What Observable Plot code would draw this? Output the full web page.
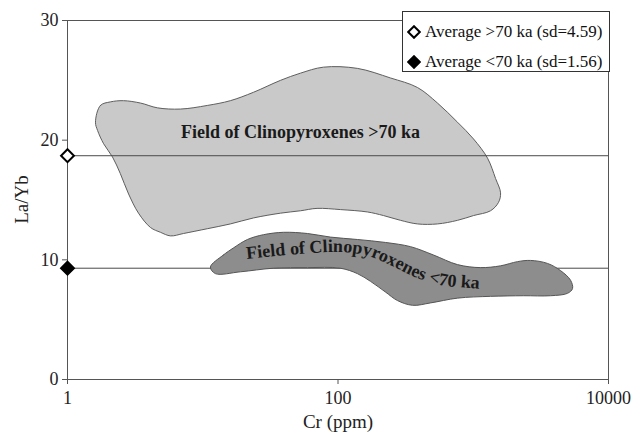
<!DOCTYPE html>
<html>
<head>
<meta charset="utf-8">
<script src="https://cdn.jsdelivr.net/npm/d3@7"></script>
<script src="https://cdn.jsdelivr.net/npm/@observablehq/plot@0.6"></script>
<style>
  body { margin: 0; background: #fff; }
  #chart { position: relative; width: 641px; height: 439px; font-family: "Liberation Serif", "Times New Roman", serif; }
  .legend { position: absolute; left: 402px; top: 11px; width: 206px; height: 59px; border: 1px solid #333; background: #fff; color: #111; font-size: 17px; }
  .legend .item { position: absolute; left: 4px; height: 24px; display: flex; align-items: center; white-space: nowrap; }
  .legend svg { margin-right: 4px; }
</style>
</head>
<body>
<div id="chart"></div>
<script>
// Axis ticks
const xTicks = [1, 100, 10000];
const yTicks = [0, 10, 20, 30];

// Outline of the clinopyroxene field older than 70 ka (Cr ppm, La/Yb)
const olderFieldCr   = [1.61, 1.75, 2.08, 2.59, 3.47, 4.63, 6.85, 10.8, 16.0, 23.7, 37.6, 52.8, 78, 139, 244, 387, 544, 765, 1005, 1275, 1462, 1592, 1537, 1342, 1005, 765, 544, 387, 290, 217, 165, 104, 70, 52.8, 37.6, 23.7, 16.0, 10.8, 7.2, 5.78, 4.87, 4.11, 3.35, 2.83, 2.46, 2.15, 1.85, 1.67];
const olderFieldLaYb = [21.5, 22.9, 23.2, 23.3, 23.1, 22.7, 22.6, 22.9, 23.3, 24.0, 25.0, 25.6, 26.1, 26.0, 25.2, 24.4, 23.1, 21.5, 20.1, 18.5, 16.8, 15.6, 14.8, 14.1, 13.7, 13.3, 13.0, 13.0, 13.3, 13.7, 14.0, 14.2, 14.3, 14.1, 13.9, 13.5, 13.0, 12.6, 12.2, 12.0, 12.3, 12.7, 13.9, 15.5, 17.2, 18.6, 19.7, 20.8];

// Outline of the clinopyroxene field younger than 70 ka
const youngerFieldCr   = [11.4, 14.2, 16.9, 21.4, 28.1, 39.5, 59.5, 88, 139, 225, 344, 509, 765, 1132, 1592, 2125, 2651, 3540, 4418, 5238, 5421, 4975, 3725, 2353, 1342, 765, 483, 356, 275, 225, 174, 139, 104, 59.5, 33.3, 19.0, 12.4];
const youngerFieldLaYb = [9.4, 10.4, 11.0, 11.7, 12.1, 12.3, 12.2, 11.9, 11.7, 11.45, 11.1, 10.4, 9.6, 9.35, 9.5, 9.85, 9.95, 9.7, 9.1, 8.3, 7.6, 7.2, 7.0, 7.0, 6.95, 6.8, 6.4, 6.2, 6.6, 7.3, 8.2, 8.85, 9.3, 9.35, 9.3, 9.0, 8.85];

// Average La/Yb of each age group, plotted at Cr = 1
const averageLabels = ["Average >70 ka (sd=4.59)", "Average <70 ka (sd=1.56)"];
const averageCr = [1, 1];
const averageLaYb = [18.7, 9.3];
const averageFill = ["white", "black"];

// Field names
const olderFieldName = "Field of Clinopyroxenes >70 ka";
const olderFieldNameAt = [52.8, 20.7];
const youngerFieldName = "Field of Clinopyroxenes <70 ka";
// Baseline the younger field's name follows (Cr ppm, La/Yb)
const youngerNameCr   = [21.4, 52.8, 104, 168, 253, 374, 573, 955, 1592];
const youngerNameLaYb = [10.03, 10.45, 10.61, 10.28, 9.44, 8.52, 7.86, 7.60, 7.44];

// Axis titles
const xTitle = "Cr (ppm)";
const yTitle = "La/Yb";

const olderField = olderFieldCr.map((c, i) => ({cr: c, lay: olderFieldLaYb[i]}));
const youngerField = youngerFieldCr.map((c, i) => ({cr: c, lay: youngerFieldLaYb[i]}));
const averages = averageLabels.map((label, i) => ({label, cr: averageCr[i], lay: averageLaYb[i], fill: averageFill[i]}));

const font = '"Liberation Serif", "Times New Roman", serif';

const plot = Plot.plot({
  width: 641,
  height: 439,
  marginLeft: 67,
  marginRight: 33,
  marginTop: 20,
  marginBottom: 60,
  style: {fontFamily: font, color: "#222", background: "#fff"},
  x: {type: "log", domain: [1, 10000]},
  y: {domain: [0, 30]},
  marks: [
    Plot.line(olderField, {x: "cr", y: "lay", curve: "catmull-rom-closed", fill: "#c9c9c9", stroke: "#5e5e5e", strokeWidth: 1}),
    Plot.ruleY(averageLaYb, {stroke: "#4a4a4a", strokeWidth: 1}),
    Plot.line(youngerField, {x: "cr", y: "lay", curve: "catmull-rom-closed", fill: "#8d8d8d", stroke: "#555", strokeWidth: 1}),
    Plot.frame({stroke: "#555"}),
    Plot.axisX({ticks: xTicks, tickFormat: d => String(d), tickSize: 5, tickPadding: 7, fontSize: 18, label: null, stroke: "#555"}),
    Plot.axisY({ticks: yTicks, tickSize: 5, tickPadding: 4, fontSize: 18, label: null, stroke: "#555"}),
    Plot.text([xTitle], {frameAnchor: "bottom", dy: 48, fontSize: 19, fill: "#222"}),
    Plot.dot(averages, {x: "cr", y: "lay", symbol: "diamond2", r: 5.8, fill: "fill", stroke: "black", strokeWidth: 2}),
    Plot.text([olderFieldName], {x: () => olderFieldNameAt[0], y: () => olderFieldNameAt[1], fontSize: 18, fontWeight: "bold", fill: "#1a1a1a"})
  ]
});

const sx = plot.scale("x"), sy = plot.scale("y");
const svg = d3.select(plot);

// Vertical axis title, centred on the y range
const yMid = (sy.apply(yTicks[0]) + sy.apply(yTicks[yTicks.length - 1])) / 2;
svg.append("text")
  .attr("transform", `translate(${sx.apply(xTicks[0]) - 39},${yMid}) rotate(-90)`)
  .attr("text-anchor", "middle")
  .attr("font-family", font)
  .attr("font-size", 19)
  .attr("fill", "#222")
  .text(yTitle);

// Curved name of the younger field, laid along a path through the x/y scales
const pathD = d3.line().curve(d3.curveCatmullRom)(youngerNameCr.map((c, i) => [sx.apply(c), sy.apply(youngerNameLaYb[i])]));
svg.append("defs").append("path").attr("id", "younger-name-path").attr("d", pathD);
svg.append("text")
  .attr("font-family", font)
  .attr("font-size", 18)
  .attr("font-weight", "bold")
  .attr("text-anchor", "start")
  .attr("fill", "#1a1a1a")
  .append("textPath")
  .attr("href", "#younger-name-path")
  .attr("startOffset", 0)
  .text(youngerFieldName);

const chart = document.getElementById("chart");
chart.appendChild(plot);

// Legend box
const legend = d3.select(chart).append("div").attr("class", "legend");
averages.forEach((d, i) => {
  const item = legend.append("div").attr("class", "item").style("top", (8 + i * 30) + "px");
  const s = item.append("svg").attr("width", 14).attr("height", 14);
  s.append("polygon").attr("points", "7,1.2 12.8,7 7,12.8 1.2,7")
    .attr("fill", d.fill).attr("stroke", "black").attr("stroke-width", 2);
  item.append("span").text(d.label);
});
</script>
</body>
</html>
